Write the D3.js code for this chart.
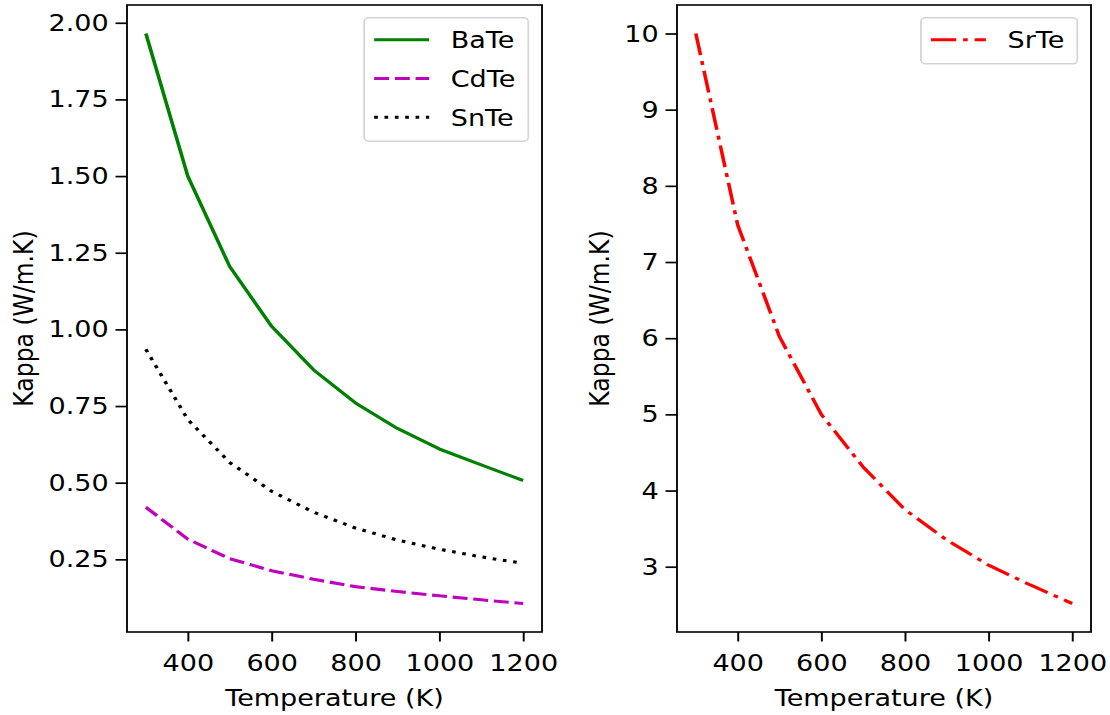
<!DOCTYPE html>
<html>
<head>
<meta charset="utf-8">
<script src="https://cdn.jsdelivr.net/npm/d3@7/dist/d3.min.js"></script>
<style>
  body { margin: 0; background: #fff; }
  svg { display: block; }
  text { font-family: "DejaVu Sans", sans-serif; fill: #000; }
</style>
</head>
<body>
<svg id="chart"></svg>
<script>
// ---- data ----
const temperature = [300, 400, 500, 600, 700, 800, 900, 1000, 1100, 1200];
const kappaBaTe = [1.965, 1.50, 1.205, 1.01, 0.868, 0.76, 0.677, 0.61, 0.558, 0.507];
const kappaCdTe = [0.42, 0.316, 0.252, 0.213, 0.185, 0.161, 0.145, 0.131, 0.118, 0.106];
const kappaSnTe = [0.935, 0.706, 0.566, 0.472, 0.404, 0.352, 0.313, 0.283, 0.258, 0.237];
const kappaSrTe = [10.0, 7.49, 6.02, 5.0, 4.31, 3.75, 3.35, 3.02, 2.76, 2.517];

const xTickValues = [400, 600, 800, 1000, 1200];
const yTickValuesLeft = [0.25, 0.50, 0.75, 1.00, 1.25, 1.50, 1.75, 2.00];
const yTickValuesRight = [3, 4, 5, 6, 7, 8, 9, 10];

const xLabel = "Temperature (K)";
const yLabel = "Kappa (W/m.K)";

// The reference is a matplotlib figure stretched horizontally, so draw in a
// narrower space and stretch the whole group by SX.
const W = 1110, H = 715, SX = 1.15;
const FONT = 23.5;
const LW = 3.1;

const svg = d3.select("#chart").attr("width", W).attr("height", H);
const root = svg.append("g").attr("transform", "scale(" + SX + ",1)");

// panel boxes in screen pixels
const panels = [
    { x0: 127, x1: 542, y0: 5, y1: 632, labelX: 24 },
    { x0: 677, x1: 1091, y0: 5, y1: 632, labelX: 600 }
];

// matplotlib style 5% data margins
function padded(lo, hi) {
    const m = (hi - lo) * 0.05;
    return [lo - m, hi + m];
}

function drawPanel(p, series, yTicks, yFormat) {
    const g = root.append("g");
    const left = p.x0 / SX, right = p.x1 / SX;

    const x = d3.scaleLinear()
        .domain(padded(d3.min(temperature), d3.max(temperature)))
        .range([left, right]);

    const all = series.flatMap(s => s.values);
    const y = d3.scaleLinear()
        .domain(padded(d3.min(all), d3.max(all)))
        .range([p.y1, p.y0]);

    // lines
    const line = d3.line()
        .x((d, i) => x(temperature[i]))
        .y(d => y(d));

    series.forEach(s => {
        g.append("path")
            .attr("d", line(s.values))
            .attr("fill", "none")
            .attr("stroke", s.color)
            .attr("stroke-width", LW)
            .attr("stroke-dasharray", s.dash)
            .attr("stroke-linecap", "butt")
            .attr("stroke-linejoin", "round");
    });

    // axes
    const xAxis = d3.axisBottom(x).tickValues(xTickValues).tickFormat(d3.format("d"))
        .tickSize(9.5).tickPadding(13);
    const yAxis = d3.axisLeft(y).tickValues(yTicks).tickFormat(d3.format(yFormat))
        .tickSize(10).tickPadding(6);

    const gx = g.append("g").attr("transform", "translate(0," + p.y1 + ")").call(xAxis);
    const gy = g.append("g").attr("transform", "translate(" + left + ",0)").call(yAxis);

    [gx, gy].forEach(a => {
        a.select(".domain").remove();
        a.selectAll(".tick line").attr("stroke", "#000").attr("stroke-width", 1.7);
        a.selectAll(".tick text")
            .style("font-family", "'DejaVu Sans', sans-serif")
            .style("font-size", FONT + "px");
    });

    // frame (all four spines)
    g.append("rect")
        .attr("x", left).attr("y", p.y0)
        .attr("width", right - left).attr("height", p.y1 - p.y0)
        .attr("fill", "none").attr("stroke", "#000").attr("stroke-width", 1.6);

    // axis labels
    g.append("text")
        .attr("x", (left + right) / 2).attr("y", 706)
        .attr("text-anchor", "middle")
        .style("font-size", FONT + "px")
        .text(xLabel);

    g.append("text")
        .attr("transform", "translate(" + (p.labelX / SX) + "," + ((p.y0 + p.y1) / 2) + ") rotate(-90)")
        .attr("text-anchor", "middle")
        .attr("dy", "0.35em")
        .style("font-size", FONT + "px")
        .text(yLabel);

    drawLegend(g, series, right, p.y0);
}

function drawLegend(g, series, right, top) {
    const inset = 13.7 / SX, boxTop = top + 12.8;
    const padTop = 22, rowGap = 38.7, padBottom = 24;
    const sampleOff = 10 / SX, sampleLen = 55 / SX, textOff = 86.6 / SX, padRight = 13 / SX;

    const lg = g.append("g");
    const box = lg.append("rect");

    const texts = series.map((s, i) => {
        const cy = boxTop + padTop + i * rowGap;
        lg.append("line")
            .attr("y1", cy).attr("y2", cy)
            .attr("stroke", s.color)
            .attr("stroke-width", LW)
            .attr("stroke-dasharray", s.dash)
            .attr("class", "sample");
        return lg.append("text")
            .attr("y", cy).attr("dy", "0.36em")
            .style("font-size", FONT + "px")
            .text(s.name);
    });

    const maxW = d3.max(texts, t => t.node().getComputedTextLength());
    const boxW = textOff + maxW + padRight;
    const boxLeft = right - inset - boxW;
    const boxH = padTop + (series.length - 1) * rowGap + padBottom;

    box.attr("x", boxLeft).attr("y", boxTop)
        .attr("width", boxW).attr("height", boxH)
        .attr("rx", 4).attr("ry", 4)
        .attr("fill", "#fff").attr("fill-opacity", 0.8)
        .attr("stroke", "#d4d4d4").attr("stroke-width", 1.5);

    lg.selectAll("line.sample")
        .attr("x1", boxLeft + sampleOff)
        .attr("x2", boxLeft + sampleOff + sampleLen);
    texts.forEach(t => t.attr("x", boxLeft + textOff));
}

drawPanel(panels[0], [
    { name: "BaTe", values: kappaBaTe, color: "#008000", dash: null },
    { name: "CdTe", values: kappaCdTe, color: "#bf00bf", dash: "13,5" },
    { name: "SnTe", values: kappaSnTe, color: "#000000", dash: "3.2,5.8" }
], yTickValuesLeft, ".2f");

drawPanel(panels[1], [
    { name: "SrTe", values: kappaSrTe, color: "#ff0000", dash: "22,6,4,6" }
], yTickValuesRight, "d");
</script>
</body>
</html>
